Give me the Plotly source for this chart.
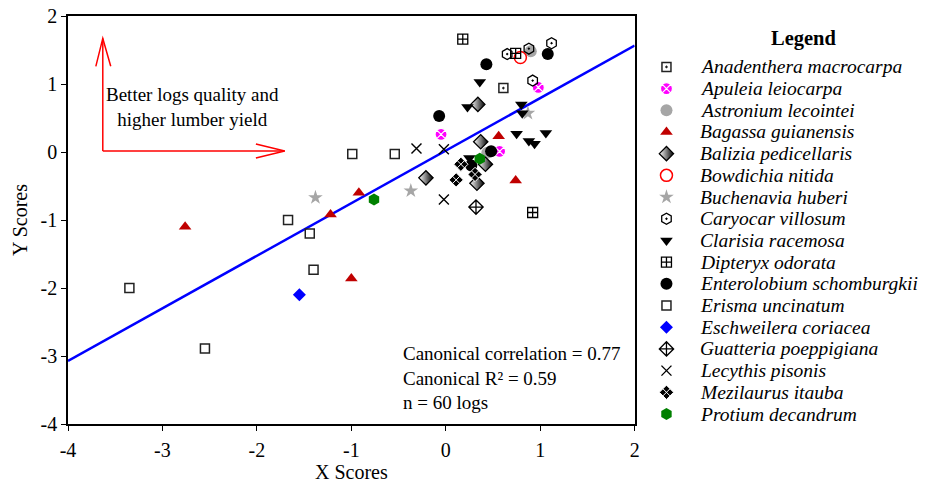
import plotly.graph_objects as go

# ---------------- data ----------------
species = [
    "Anadenthera macrocarpa", "Apuleia leiocarpa", "Astronium lecointei",
    "Bagassa guianensis", "Balizia pedicellaris", "Bowdichia nitida",
    "Buchenavia huberi", "Caryocar villosum", "Clarisia racemosa",
    "Dipteryx odorata", "Enterolobium schomburgkii", "Erisma uncinatum",
    "Eschweilera coriacea", "Guatteria poeppigiana", "Lecythis pisonis",
    "Mezilaurus itauba", "Protium decandrum",
]

anadenthera_x = [0.61]
anadenthera_y = [0.94]
apuleia_x = [0.98, -0.05, 0.57]
apuleia_y = [0.95, 0.26, 0.01]
astronium_x = [0.90, 0.44]
astronium_y = [1.48, -0.01]
bagassa_x = [-2.76, -1.22, -1.00, -0.92, 0.56, 0.74]
bagassa_y = [-1.10, -0.92, -1.86, -0.60, 0.23, -0.42]
balizia_x = [0.34, 0.37, -0.21, 0.42, 0.33]
balizia_y = [0.70, 0.15, -0.38, -0.18, -0.46]
bowdichia_x = [0.79]
bowdichia_y = [1.39]
buchenavia_x = [0.87, -0.37, -1.38]
buchenavia_y = [0.57, -0.57, -0.67]
caryocar_x = [0.65, 0.88, 1.12, 0.92]
caryocar_y = [1.44, 1.52, 1.60, 1.05]
clarisia_x = [0.36, 0.23, 0.80, 0.81, 0.75, 0.88, 0.94, 1.06, 0.25]
clarisia_y = [1.03, 0.66, 0.70, 0.57, 0.27, 0.16, 0.12, 0.28, -0.09]
dipteryx_x = [0.18, 0.74, 0.92]
dipteryx_y = [1.66, 1.45, -0.89]
enterolobium_x = [0.43, 1.08, -0.07, 0.48, 0.27]
enterolobium_y = [1.29, 1.44, 0.53, 0.01, -0.20]
erisma_x = [-3.35, -2.55, -1.67, -1.44, -1.40, -0.99, -0.54]
erisma_y = [-2.00, -2.89, -1.00, -1.20, -1.73, -0.03, -0.03]
eschweilera_x = [-1.55]
eschweilera_y = [-2.10]
guatteria_x = [0.32]
guatteria_y = [-0.81]
lecythis_x = [-0.31, -0.02, -0.02]
lecythis_y = [0.05, 0.04, -0.70]
mezilaurus_x = [0.16, 0.11, 0.31]
mezilaurus_y = [-0.18, -0.41, -0.33]
protium_x = [-0.76, 0.36]
protium_y = [-0.70, -0.10]

fit_slope = 0.773
fit_intercept = 0.02
x_range = [-4, 2]
y_range = [-4, 2]
tick_values = [-4, -3, -2, -1, 0, 1, 2]
tick_labels = ["-4", "-3", "-2", "-1", "0", "1", "2"]
stats_text = ["Canonical correlation = 0.77", "Canonical R\u00b2 = 0.59", "n = 60 logs"]

series_x = [anadenthera_x, apuleia_x, astronium_x, bagassa_x, balizia_x, bowdichia_x,
            buchenavia_x, caryocar_x, clarisia_x, dipteryx_x, enterolobium_x, erisma_x,
            eschweilera_x, guatteria_x, lecythis_x, mezilaurus_x, protium_x]
series_y = [anadenthera_y, apuleia_y, astronium_y, bagassa_y, balizia_y, bowdichia_y,
            buchenavia_y, caryocar_y, clarisia_y, dipteryx_y, enterolobium_y, erisma_y,
            eschweilera_y, guatteria_y, lecythis_y, mezilaurus_y, protium_y]

# ---------------- styles ----------------
markers = [
    dict(symbol="square-open-dot", size=9, color="#222", line=dict(width=1.5, color="#222")),
    dict(symbol="circle-x", size=12, color="#ff00ff", line=dict(width=1.2, color="white")),
    dict(symbol="circle", size=12, color="#a6a6a6"),
    dict(symbol="triangle-up", size=11, color="#c00000"),
    dict(symbol="diamond", size=11, color="white", gradient=dict(type="horizontal", color="black"),
         line=dict(width=1.3, color="black")),
    dict(symbol="circle-open", size=12, color="#ff0000", line=dict(width=1.5, color="#ff0000")),
    dict(symbol="star", size=11, color="#a6a6a6", line=dict(width=0)),
    dict(symbol="hexagon-open-dot", size=11, color="black", line=dict(width=1.3, color="black")),
    dict(symbol="triangle-down", size=11, color="black"),
    dict(symbol="square-cross-open", size=10, color="black", line=dict(width=1.3, color="black")),
    dict(symbol="circle", size=12, color="black"),
    dict(symbol="square-open", size=9, color="#222", line=dict(width=1.5, color="#222")),
    dict(symbol="diamond", size=10, color="#0000ff"),
    dict(symbol="diamond-cross-open", size=11, color="black", line=dict(width=1.3, color="black")),
    dict(symbol="x-thin-open", size=10, color="black", line=dict(width=1.4, color="black")),
    dict(symbol="diamond-x", size=11, color="black", line=dict(width=1, color="white")),
    dict(symbol="hexagon", size=12, color="#008000"),
]

FONT = "Liberation Serif"

fig = go.Figure()

# regression line
fig.add_trace(go.Scatter(
    x=x_range, y=[fit_slope * v + fit_intercept for v in x_range],
    mode="lines", line=dict(color="#0000ff", width=2.5), showlegend=False, hoverinfo="skip"))

for name, xs, ys, mk in zip(species, series_x, series_y, markers):
    fig.add_trace(go.Scatter(x=xs, y=ys, mode="markers", name=name, marker=mk,
                             showlegend=False, xaxis="x", yaxis="y"))

# manual legend drawn in its own axes
for i, (name, mk) in enumerate(zip(species, markers)):
    fig.add_trace(go.Scatter(x=[670], y=[i], mode="markers", marker=mk, showlegend=False,
                             xaxis="x2", yaxis="y2", hoverinfo="skip"))
    fig.add_annotation(x=702, y=i, xref="x2", yref="y2", text=name, showarrow=False,
                       xanchor="left", yanchor="middle",
                       font=dict(family=FONT, size=19.5, color="black", style="italic"))
fig.add_annotation(x=808, y=-1.3, xref="x2", yref="y2", text="<b>Legend</b>", showarrow=False,
                   xanchor="center", yanchor="middle", font=dict(family=FONT, size=20.5, color="black"))

# pixel -> data helpers for decorations
def px2x(p):
    return -4 + (p - 68) / 95.0

def py2y(p):
    return 2 - (p - 14.5) / 68.25

red = dict(color="#ff0000", width=1.5)
arrow_paths = [
    [(103, 150), (103, 37)],
    [(96, 65), (103, 37), (111, 65)],
    [(103, 150), (286, 150)],
    [(257, 143), (286, 150), (257, 157)],
]
for pts in arrow_paths:
    path = "M " + " L ".join(f"{px2x(a):.4f},{py2y(b):.4f}" for a, b in pts)
    fig.add_shape(type="path", path=path, xref="x", yref="y", line=red)

fig.add_annotation(x=px2x(193), y=py2y(106), xref="x", yref="y",
                   text="Better logs quality and<br>higher lumber yield", showarrow=False,
                   xanchor="center", yanchor="middle", align="center",
                   font=dict(family=FONT, size=19, color="black"))
fig.add_annotation(x=px2x(403), y=py2y(378), xref="x", yref="y",
                   text="<br>".join(stats_text), showarrow=False,
                   xanchor="left", yanchor="middle", align="left",
                   font=dict(family=FONT, size=19, color="black"))

axis_common = dict(showline=True, linecolor="black", linewidth=1.5, mirror=True,
                   ticks="outside", ticklen=5, tickwidth=1.2, tickcolor="black",
                   showgrid=False, zeroline=False,
                   tickmode="array", tickvals=tick_values, ticktext=tick_labels,
                   tickfont=dict(family=FONT, size=20, color="black"))

fig.update_layout(
    width=925, height=485,
    margin=dict(l=68, r=5, t=15, b=61),
    paper_bgcolor="white", plot_bgcolor="white",
    showlegend=False,
    xaxis=dict(domain=[0, 570 / 852], range=x_range, **axis_common, ticklabelstandoff=2,
               title=dict(text="X Scores", font=dict(family=FONT, size=20, color="black"), standoff=3)),
    yaxis=dict(domain=[0, 1], range=y_range, **axis_common,
               title=dict(text="Y Scores", font=dict(family=FONT, size=20, color="black"), standoff=8)),
    xaxis2=dict(domain=[575 / 852, 1], range=[643, 920], visible=False, anchor="y2"),
    yaxis2=dict(domain=[0, 1], range=[16.46, -2.345], visible=False, anchor="x2"),
)

fig.write_html("out.html")
